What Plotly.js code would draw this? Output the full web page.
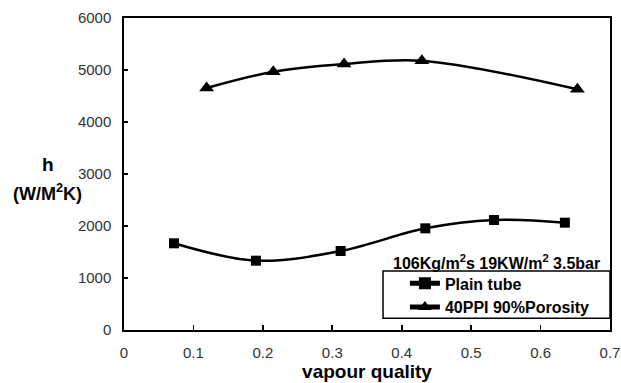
<!DOCTYPE html>
<html><head><meta charset="utf-8">
<script src="https://cdn.plot.ly/plotly-3.0.1.min.js"></script>
<style>html,body{margin:0;padding:0;background:#fff}</style>
</head><body><div id="chart" style="width:621px;height:383px"></div>
<script>
const plainX = [0.072, 0.190, 0.312, 0.434, 0.533, 0.635];
const plainY = [1667, 1333, 1519, 1955, 2115, 2064];
const foamX = [0.119, 0.215, 0.317, 0.429, 0.653];
const foamY = [4654, 4967, 5115, 5179, 4628];
const xTicks = [0, 0.1, 0.2, 0.3, 0.4, 0.5, 0.6, 0.7];
const yTicks = [0, 1000, 2000, 3000, 4000, 5000, 6000];
const seriesNames = ['Plain tube', '40PPI 90%Porosity'];

const font = 'Liberation Sans, Arial, sans-serif';
const traces = [
  {x: plainX, y: plainY, name: seriesNames[0], mode: 'lines+markers', type: 'scatter',
   line: {color: '#000', width: 2.5, shape: 'spline', smoothing: 1},
   marker: {symbol: 'square', size: 10, color: '#000'}},
  {x: foamX, y: foamY, name: seriesNames[1], mode: 'lines+markers', type: 'scatter',
   line: {color: '#000', width: 2.5, shape: 'spline', smoothing: 1},
   marker: {symbol: 'triangle-up', size: 13, color: '#000'}}
];
const layout = {
  width: 621, height: 383,
  margin: {l: 124, r: 11, t: 18, b: 53},
  paper_bgcolor: '#fff', plot_bgcolor: '#fff',
  font: {family: font, color: '#222', size: 13},
  showlegend: true,
  legend: {x: 0.578, y: 0.204, xanchor: 'left', yanchor: 'top',
    borderwidth: 0, bgcolor: 'rgba(0,0,0,0)',
    font: {family: font, size: 16, color: '#000', weight: 'bold'},
    traceorder: 'normal', tracegroupgap: 0, itemwidth: 30, itemsizing: 'constant'},
  xaxis: {range: [0, 0.7], tickvals: xTicks, ticktext: xTicks.map(String),
    showline: true, mirror: true, linecolor: '#000', linewidth: 1.7,
    ticks: 'inside', ticklen: 5, tickcolor: '#000', tickwidth: 1.7,
    showgrid: false, zeroline: false, ticklabelstandoff: 8,
    tickfont: {size: 15, color: '#333'},
    title: {text: 'vapour quality', font: {size: 19, color: '#000', weight: 'bold'}, standoff: 2}},
  yaxis: {range: [0, 6000], tickvals: yTicks,
    showline: true, mirror: true, linecolor: '#000', linewidth: 1.7,
    ticks: 'inside', ticklen: 4, tickcolor: '#000', tickwidth: 1.7,
    showgrid: false, zeroline: false, ticklabelstandoff: 8,
    tickfont: {size: 15, color: '#333'}},
  shapes: [
    {type: 'rect', xref: 'paper', yref: 'paper', x0: 0.533, x1: 1, y0: 0.038, y1: 0.189,
     line: {color: '#000', width: 1.5}, fillcolor: 'rgba(0,0,0,0)'}
  ],
  annotations: [
    {xref: 'paper', yref: 'paper', x: 0.767, y: 0.218, xanchor: 'center', yanchor: 'middle',
     text: '106Kg/m<sup>2</sup>s 19KW/m<sup>2</sup> 3.5bar', showarrow: false,
     font: {family: font, size: 16, color: '#000', weight: 'bold'}},
    {xref: 'paper', yref: 'paper', x: -0.157, y: 0.53, xanchor: 'center', yanchor: 'middle',
     text: 'h', showarrow: false, font: {family: font, size: 19, color: '#000', weight: 'bold'}},
    {xref: 'paper', yref: 'paper', x: -0.157, y: 0.44, xanchor: 'center', yanchor: 'middle',
     text: '(W/M<sup>2</sup>K)', showarrow: false, font: {family: font, size: 18, color: '#000', weight: 'bold'}}
  ]
};
Plotly.newPlot('chart', traces, layout, {displayModeBar: false, staticPlot: true});
</script></body></html>
